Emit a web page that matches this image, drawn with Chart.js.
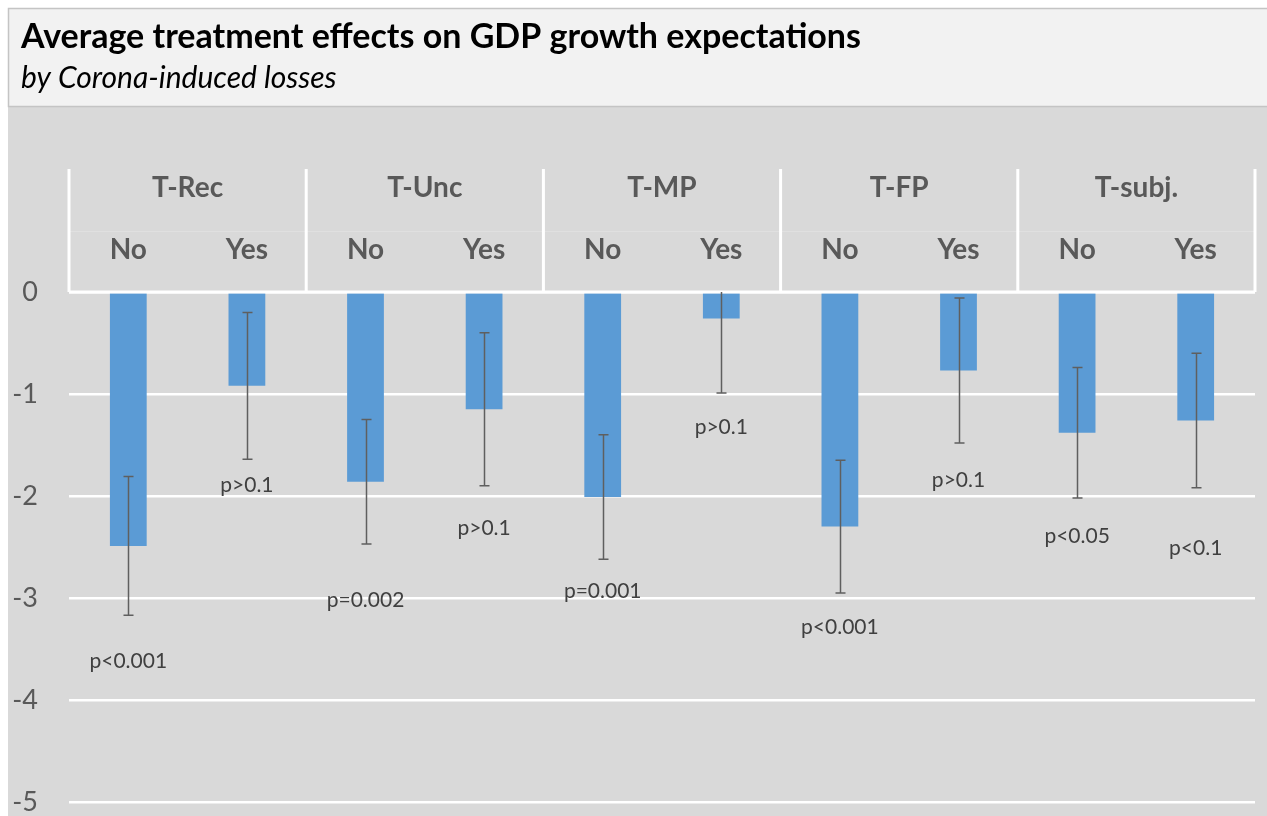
<!DOCTYPE html>
<html>
<head>
<meta charset="utf-8">
<script src="https://cdn.jsdelivr.net/npm/chart.js@4/dist/chart.umd.min.js"></script>
<style>
  html, body { margin: 0; padding: 0; background: #fff; }
  #wrap { width: 1267px; height: 816px; position: relative; }
</style>
</head>
<body>
<div id="wrap"><canvas id="chart"></canvas></div>
<script>
// data
const groups = ["T-Rec", "T-Unc", "T-MP", "T-FP", "T-subj."];
const losses = ["No", "Yes", "No", "Yes", "No", "Yes", "No", "Yes", "No", "Yes"];
const effects = [-2.49, -0.92, -1.86, -1.15, -2.01, -0.26, -2.30, -0.77, -1.38, -1.26];
const errors = [0.68, 0.72, 0.61, 0.75, 0.61, 0.73, 0.65, 0.71, 0.64, 0.66];
const pValues = ["p<0.001", "p>0.1", "p=0.002", "p>0.1", "p=0.001", "p>0.1", "p<0.001", "p>0.1", "p<0.05", "p<0.1"];
// where each p label sits (in axis units), as placed by hand in the original
const pLabelAt = [-3.62, -1.89, -3.02, -2.32, -2.93, -1.33, -3.29, -1.85, -2.39, -2.51];

const titleText = "Average treatment effects on GDP growth expectations";
const subtitleText = "by Corona-induced losses";

const FONT = "Lato, 'Open Sans', sans-serif";
const GREY_TXT = "#595959";

// background panels + title box
const backdrop = {
  id: "backdrop",
  beforeDraw(chart) {
    const ctx = chart.ctx;
    ctx.save();
    ctx.fillStyle = "#fff";
    ctx.fillRect(0, 0, chart.width, chart.height);
    ctx.fillStyle = "#d9d9d9";
    ctx.fillRect(8, 106, chart.width - 8, chart.height - 106);
    ctx.fillStyle = "#f2f2f2";
    ctx.fillRect(8, 8, chart.width, 98);
    ctx.strokeStyle = "#c4c4c4";
    ctx.lineWidth = 1.5;
    ctx.strokeRect(8.5, 8.5, chart.width, 98);

    ctx.fillStyle = "#000";
    ctx.textBaseline = "alphabetic";
    ctx.textAlign = "left";
    ctx.font = "bold 34px " + FONT;
    ctx.fillText(titleText, 21, 48);
    ctx.font = "italic 30px " + FONT;
    ctx.fillText(subtitleText, 21, 88);
    ctx.restore();
  }
};

// two-level category header above the bars
const header = {
  id: "header",
  afterDatasetsDraw(chart) {
    const ctx = chart.ctx;
    const x = chart.scales.x;
    const area = chart.chartArea;
    const top = 169;
    const half = (x.getPixelForValue(1) - x.getPixelForValue(0)) / 2;
    ctx.save();
    // faint divider between the two header rows
    ctx.strokeStyle = "#e0e0e0";
    ctx.lineWidth = 1;
    ctx.beginPath();
    ctx.moveTo(area.left, 231.5);
    ctx.lineTo(area.right, 231.5);
    ctx.stroke();

    ctx.strokeStyle = "#fff";
    ctx.lineWidth = 3;
    ctx.beginPath();
    for (let g = 0; g <= groups.length; g++) {
      const px = g < groups.length ? x.getPixelForValue(g * 2) - half : area.right;
      ctx.moveTo(px, top);
      ctx.lineTo(px, area.top);
    }
    ctx.moveTo(area.left, area.top);
    ctx.lineTo(area.right, area.top);
    ctx.stroke();

    ctx.fillStyle = GREY_TXT;
    ctx.textAlign = "center";
    ctx.textBaseline = "middle";
    ctx.font = "bold 28px " + FONT;
    groups.forEach((g, i) => {
      const cx = (x.getPixelForValue(i * 2) + x.getPixelForValue(i * 2 + 1)) / 2;
      ctx.fillText(g, cx, 188);
    });
    ctx.font = "bold 28px " + FONT;
    losses.forEach((l, i) => {
      ctx.fillText(l, x.getPixelForValue(i), 250);
    });
    ctx.restore();
  }
};

// error bars and p-value labels
const errorBars = {
  id: "errorBars",
  afterDatasetsDraw(chart) {
    const ctx = chart.ctx;
    const x = chart.scales.x;
    const y = chart.scales.y;
    const area = chart.chartArea;
    ctx.save();
    ctx.beginPath();
    ctx.rect(area.left, area.top, area.right - area.left, area.bottom - area.top);
    ctx.clip();
    ctx.strokeStyle = "#5f5f5f";
    ctx.lineWidth = 1.5;
    effects.forEach((v, i) => {
      const cx = Math.round(x.getPixelForValue(i)) + 0.5;
      const hi = y.getPixelForValue(v + errors[i]);
      const lo = y.getPixelForValue(v - errors[i]);
      ctx.beginPath();
      ctx.moveTo(cx, hi);
      ctx.lineTo(cx, lo);
      ctx.moveTo(cx - 5, hi);
      ctx.lineTo(cx + 5, hi);
      ctx.moveTo(cx - 5, lo);
      ctx.lineTo(cx + 5, lo);
      ctx.stroke();
    });
    ctx.restore();

    ctx.save();
    ctx.fillStyle = "#404040";
    ctx.font = "21px " + FONT;
    ctx.textAlign = "center";
    ctx.textBaseline = "middle";
    pValues.forEach((t, i) => {
      ctx.fillText(t, x.getPixelForValue(i), y.getPixelForValue(pLabelAt[i]));
    });
    ctx.restore();
  }
};

const ctx = document.getElementById("chart");

const config = {
  type: "bar",
  data: {
    labels: losses,
    datasets: [
      {
        label: "Average treatment effect",
        data: effects,
        backgroundColor: "#5b9bd5",
        borderWidth: 0,
        barPercentage: 0.31,
        categoryPercentage: 1,
      },
    ],
  },
  options: {
    responsive: false,
    animation: false,
    layout: {
      padding: { top: 292, left: 0, right: 12, bottom: 14 },
    },
    plugins: {
      legend: { display: false },
      title: { display: false },
      tooltip: { enabled: false },
    },
    scales: {
      x: {
        display: false,
        offset: true,
      },
      y: {
        min: -5,
        max: 0,
        afterFit(scale) {
          scale.width = 69;
        },
        ticks: {
          stepSize: 1,
          padding: 0,
          color: GREY_TXT,
          font: { family: FONT, size: 27, lineHeight: 1 },
        },
        grid: {
          color: "#fff",
          lineWidth: 2.5,
          drawTicks: true,
          tickLength: 31,
          tickColor: "rgba(0,0,0,0)",
        },
        border: { display: false },
      },
    },
  },
  plugins: [backdrop, header, errorBars],
};

ctx.width = 1267;
ctx.height = 816;
const myChart = new Chart(ctx, config);
</script>
</body>
</html>
